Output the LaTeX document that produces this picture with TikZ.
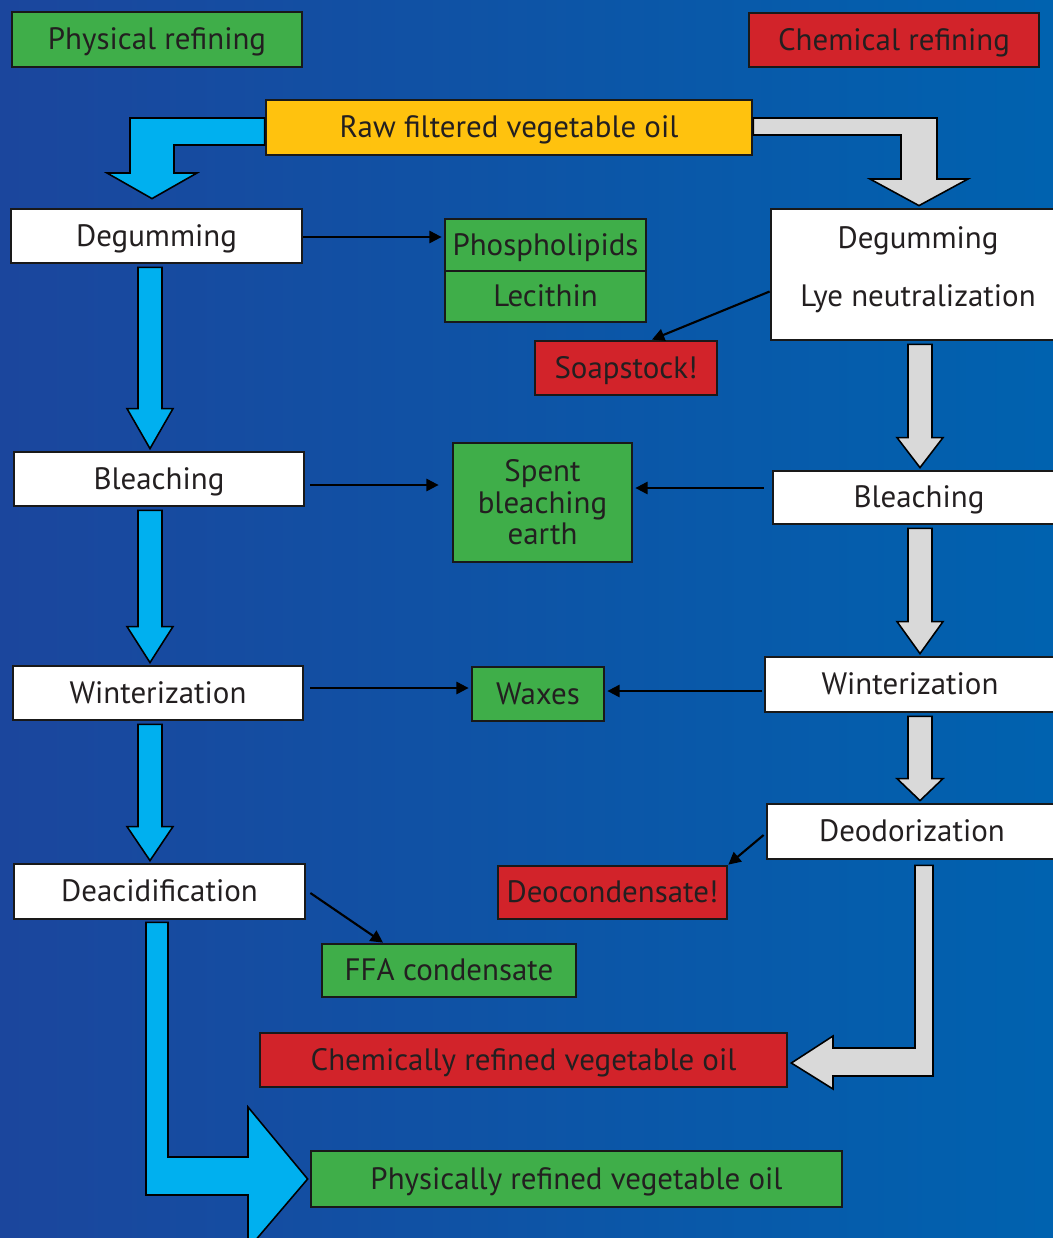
\documentclass[tikz,border=0pt]{standalone}
\usepackage{fontspec}
\setmainfont{PT Sans}
\usepackage{tikz}
\usetikzlibrary{arrows.meta,calc}

\definecolor{bgleft}{RGB}{27,70,157}
\definecolor{bgright}{RGB}{0,98,175}
\definecolor{physblue}{RGB}{0,176,239}
\definecolor{chemgrey}{RGB}{217,217,217}
\definecolor{physgreen}{RGB}{63,174,73}
\definecolor{chemred}{RGB}{210,35,42}
\definecolor{rawyellow}{RGB}{255,194,14}
\definecolor{textcol}{RGB}{35,31,32}

% vertical block arrow: axis, from, to, colour, head length
\newcommand{\blockdown}[5]{%
  \draw[blockarrow, fill=#4] ($(#2.south -| #1)+(-12,3)$) -- ($(#3.north -| #1)+(-12,-#5)$)
    -- ++(-11,0) -- ($(#3.north -| #1)+(0,-2)$) -- ($(#3.north -| #1)+(23,-#5)$)
    -- ++(-11,0) -- ($(#2.south -| #1)+(12,3)$) -- cycle;}

\begin{document}
\begin{tikzpicture}[x=0.02cm, y=-0.02cm,
  box/.style={draw=black!90, line width=1.6pt, inner sep=0pt, text=textcol,
    font=\fontsize{17.6}{18}\selectfont, text height=15pt, text depth=3.6pt},
  multi/.style={text height=, text depth=, align=center},
  stepbox/.style={box, fill=white, minimum width=5.8cm, minimum height=1.08cm},
  blockarrow/.style={draw=black, line width=0.9pt, line join=miter},
  thinarrow/.style={-{Triangle[length=7pt,width=7pt]}, line width=1.2pt, draw=black}]
	\useasboundingbox (0,0) rectangle (1053,1238);
	\clip (0,0) rectangle (1053,1238);
	\shade[left color=bgleft, right color=bgright] (0,0) rectangle (1053,1238);
	\coordinate (lx) at (150,0);
	\coordinate (rx) at (920,0);
	% headers
	\node[box, fill=physgreen, minimum width=5.8cm, minimum height=1.1cm] (phys) at (157,39.5) {Physical refining};
	\node[box, fill=chemred, minimum width=5.8cm, minimum height=1.08cm] (chem) at (894,40) {Chemical refining};
	\node[box, fill=rawyellow, minimum width=9.72cm, minimum height=1.1cm] (raw) at (509,127.5) {Raw filtered vegetable oil};
	% physical refining
	\node[stepbox, minimum width=5.82cm] (deg1) at (156.5,236) {Degumming};
	\node[stepbox] (bl1) at (159,479) {Bleaching};
	\node[stepbox] (win1) at (158,693) {Winterization};
	\node[stepbox, minimum width=5.82cm, minimum height=1.1cm] (deac) at (159.5,891.5) {Deacidification};
	% chemical refining
	\node[stepbox, multi, minimum width=5.88cm, minimum height=2.62cm] (deg2) at (918,274.5) {Degumming\\[15pt]Lye neutralization\\[-9pt]};
	\node[stepbox, minimum width=5.84cm, minimum height=1.06cm] (bl2) at (919,497.5) {Bleaching};
	\node[stepbox, minimum height=1.1cm] (win2) at (910,684.5) {Winterization};
	\node[stepbox, minimum height=1.1cm] (deo) at (912,831.5) {Deodorization};
	% by-products
	\node[box, fill=physgreen, minimum width=4.02cm, minimum height=1.04cm] (phos) at (545.5,245) {Phospholipids};
	\node[box, fill=physgreen, minimum width=4.02cm, minimum height=1.02cm] (lec) at (545.5,296.5) {Lecithin};
	\node[box, fill=chemred, minimum width=3.64cm, minimum height=1.08cm] (soap) at (626,368) {Soapstock!};
	\node[box, multi, fill=physgreen, minimum width=3.58cm, minimum height=2.38cm] (spent) at (542.5,502.5) {Spent\\bleaching\\earth};
	\node[box, fill=physgreen, minimum width=2.64cm, minimum height=1.08cm] (wax) at (538,694) {Waxes};
	\node[box, fill=chemred, minimum width=4.58cm, minimum height=1.06cm] (deoc) at (612.5,892.5) {Deocondensate!};
	\node[box, fill=physgreen, minimum width=5.08cm, minimum height=1.06cm] (ffa) at (449,970.5) {FFA condensate};
	% products
	\node[box, fill=chemred, minimum width=10.54cm, minimum height=1.08cm] (chemoil) at (523.5,1060) {Chemically refined vegetable oil};
	\node[box, fill=physgreen, minimum width=10.62cm, minimum height=1.12cm] (physoil) at (576.5,1179) {Physically refined vegetable oil};
	% big arrows
	\draw[blockarrow, fill=physblue] (raw.west |- 0,118) -- (130,118) -- (130,173) -- (107,173)
	  -- ($(deg1.north -| 152,0)+(0,-9)$) -- (197,173) -- (174,173) -- (174,145) -- (raw.west |- 0,145) -- cycle;
	\draw[blockarrow, fill=chemgrey] (raw.east |- 0,118) -- (937,118) -- (937,179) -- (968,179)
	  -- ($(deg2.north -| 919,0)+(0,-2)$) -- (870,179) -- (901,179) -- (901,135) -- (raw.east |- 0,135) -- cycle;
	\blockdown{lx}{deg1}{bl1}{physblue}{42}
	\blockdown{lx}{bl1}{win1}{physblue}{38}
	\blockdown{lx}{win1}{deac}{physblue}{36}
	\blockdown{rx}{deg2}{bl2}{chemgrey}{32}
	\blockdown{rx}{bl2}{win2}{chemgrey}{34}
	\blockdown{rx}{win2}{deo}{chemgrey}{24}
	\draw[blockarrow, fill=physblue] ($(deac.south -| 146,0)+(0,2)$) -- (146,1195) -- (248,1195) -- (248,1249)
	  -- ($(physoil.west)+(-2,0)$) -- (248,1107) -- (248,1157) -- (168,1157) -- ($(deac.south -| 168,0)+(0,2)$) -- cycle;
	\draw[blockarrow, fill=chemgrey] ($(deo.south -| 915,0)+(0,5)$) -- (915,1048) -- (833,1048) -- (833,1036)
	  -- ($(chemoil.east)+(3,3)$) -- (833,1089) -- (833,1076) -- (933,1076) -- ($(deo.south -| 933,0)+(0,5)$) -- cycle;
	% by-product arrows
	\draw[thinarrow] ($(deg1.east)+(0,1)$) -- ($(deg1.east -| phos.west)+(-2,1)$);
	\draw[thinarrow] ($(deg2.west)+(0,17)$) -- ($(soap.north)+(26,0)$);
	\draw[thinarrow] ($(bl1.east)+(5,6)$) -- ($(bl1.east -| spent.west)+(-13,6)$);
	\draw[thinarrow] ($(bl2.west)+(-8,-9.5)$) -- ($(bl2.west -| spent.east)+(2,-9.5)$);
	\draw[thinarrow] ($(win1.east)+(6,-5)$) -- ($(win1.east -| wax.west)+(-2,-5)$);
	\draw[thinarrow] ($(win2.west)+(-2,6.5)$) -- ($(win2.west -| wax.east)+(2,6.5)$);
	\draw[thinarrow] ($(deo.west)+(-2,3.5)$) -- (deoc.north east);
	\draw[thinarrow] ($(deac.east)+(4,1.5)$) -- ($(ffa.north)+(-66,0)$);
\end{tikzpicture}
\end{document}
